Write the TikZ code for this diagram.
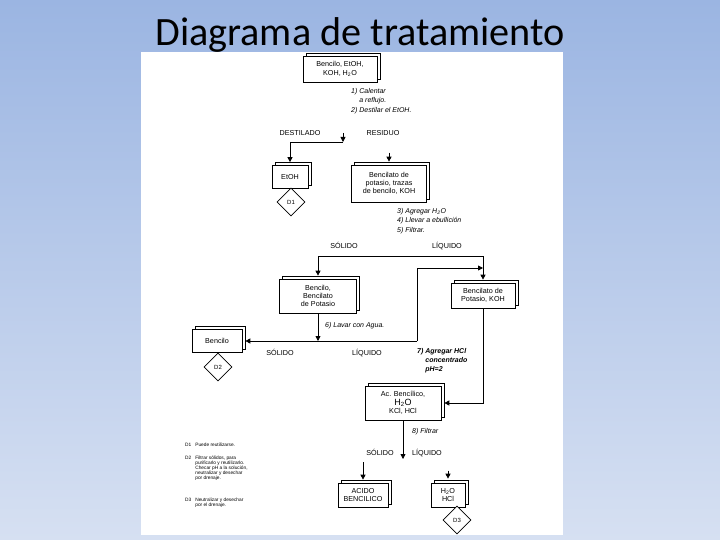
\documentclass[tikz,border=0pt]{standalone}
\usepackage{fontspec}
\setmainfont{Liberation Sans}
\newfontfamily\titlefont{Carlito}
\usetikzlibrary{arrows.meta,shapes.geometric,shadows}

\begin{document}
\begin{tikzpicture}[x=1pt,y=-1pt,
    every node/.style={font=\fontsize{7.2}{8.3}\selectfont, inner sep=1pt},
    stackbox/.style={draw, fill=white, line width=0.7pt, align=center,
      copy shadow={shadow xshift=3pt, shadow yshift=3pt, draw=black, fill=white, line width=0.7pt}},
    decision/.style={diamond, draw, fill=white, line width=0.6pt, minimum width=28pt,
      minimum height=28pt, inner sep=0pt, font=\fontsize{6}{7}\selectfont},
    link/.style={line width=0.8pt},
    arr/.style={link, -{Triangle[length=5pt,width=5pt]}},
    stepnote/.style={font=\fontsize{7}{9.5}\selectfont\itshape, align=left, anchor=north west},
    tag/.style={font=\fontsize{7.2}{8}\selectfont, anchor=base},
    legend/.style={font=\fontsize{4.8}{4.5}\selectfont, anchor=north west, inner sep=0pt}]
    % Slide background and sheet
    \shade[top color={rgb,255:red,155;green,181;blue,226}, bottom color={rgb,255:red,214;green,224;blue,242}]
        (0,0) rectangle (720,540);
    \fill[white] (141,52) rectangle (563,535);
    \node[font=\titlefont\fontsize{40.2}{42}\selectfont, anchor=base] (title) at (360,45.5) {Diagrama de tratamiento};
    % Boxes
    \node[stackbox, minimum width=74pt, minimum height=26pt] (start) at (340,69) {Bencilo, EtOH,\\KOH, H\textsubscript{2}O};
    \node[stackbox, minimum width=36pt, minimum height=23pt] (etoh) at (290,177) {EtOH};
    \node[stackbox, minimum width=75pt, minimum height=37pt] (resid) at (389,183.5) {Bencilato de\\potasio, trazas\\de bencilo, KOH};
    \node[stackbox, minimum width=77pt, minimum height=34pt] (mix) at (318,296) {Bencilo,\\Bencilato\\de Potasio};
    \node[stackbox, minimum width=64pt, minimum height=25pt] (kbenz) at (483,295.5) {Bencilato de\\Potasio, KOH};
    \node[stackbox, minimum width=50pt, minimum height=23pt] (benzilo) at (217,341) {Bencilo};
    \node[stackbox, minimum width=76pt, minimum height=34pt] (acid) at (403,403) {Ac. Bencílico,\\{\fontsize{9}{10}\selectfont H\textsubscript{2}O}\\KCl, HCl};
    \node[stackbox, minimum width=50pt, minimum height=24pt] (solid) at (363,495) {ACIDO\\BENCILICO};
    \node[stackbox, minimum width=34pt, minimum height=24pt] (water) at (448,495) {H\textsubscript{2}O\\HCl};
    % Disposal marks
    \node[decision] (d1) at (291,202) {D1};
    \node[decision] (d2) at (218,367) {D2};
    \node[decision] (d3) at (457,520) {D3};
    % Steps
    \node[stepnote] (s12) at (350,87) {1) Calentar\\\phantom{1) }a reflujo.\\2) Destilar el EtOH.};
    \node[stepnote] (s35) at (396,207) {3) Agregar H\textsubscript{2}O\\4) Llevar a ebullición\\5) Filtrar.};
    \node[stepnote, anchor=west] (s6) at (324,326) {6) Lavar con Agua.};
    \node[stepnote, font=\fontsize{7}{9}\selectfont\itshape\bfseries] (s7) at (416,347) {7) Agregar HCl\\\phantom{7) }concentrado\\\phantom{7) }pH=2};
    \node[stepnote, anchor=west] (s8) at (411,432) {8) Filtrar};
    % Phase labels
    \node[tag] (dest) at (300,136) {DESTILADO};
    \node[tag] (res) at (383,136) {RESIDUO};
    \node[tag] (sol1) at (344,248) {SÓLIDO};
    \node[tag] (liq1) at (447,248) {LÍQUIDO};
    \node[tag] (sol2) at (280,355) {SÓLIDO};
    \node[tag] (liq2) at (367,355) {LÍQUIDO};
    \node[tag] (sol3) at (380,455) {SÓLIDO};
    \node[tag] (liq3) at (427,455) {LÍQUIDO};
    % Connectors
    \coordinate (j1top) at (343,133);
    \coordinate (j1) at (343,142);
    \draw[arr] (j1top) -- (j1);
    \draw[arr] (j1) -| ([yshift=3pt]etoh.north);
    \draw[arr] ([yshift=12pt]resid.north) -- ([yshift=3pt]resid.north);
    \coordinate (s1) at (318,256);
    \coordinate (l1) at (483,256);
    \draw[link] (s1) -- (l1);
    \draw[arr] (s1) -- ([yshift=3pt]mix.north);
    \draw[arr] (l1) -- ([yshift=3pt]kbenz.north);
    \coordinate (j2) at (318,341);
    \coordinate (j3) at (417,341);
    \draw[arr] (mix.south) -- (j2);
    \draw[arr] (j3) -- ([xshift=3pt]benzilo.east);
    \coordinate (k1) at (483,268);
    \draw[arr] (j3) |- (k1);
    \draw[arr] (kbenz.south) |- ([xshift=3pt]acid.east);
    \coordinate (f1) at (403,459);
    \draw[arr] (acid.south) -- (f1);
    \coordinate (g1) at (363,462);
    \draw[arr] (g1) -- ([yshift=3pt]solid.north);
    \draw[arr] ([yshift=12pt]water.north) -- ([yshift=4pt]water.north);
    % Legend
    \node[legend] (leg1) at (185,443) {\begin{tabular}{@{}l@{\hspace{4pt}}l@{}}D1 & Puede reutilizarse.\end{tabular}};
    \node[legend] (leg2) at (185,456) {\begin{tabular}{@{}l@{\hspace{4pt}}l@{}}D2 & Filtrar sólidos, para\\ & purificarlo y reutilizarlo.\\ & Checar pH a la solución,\\ & neutralizar y desechar\\ & por drenaje.\end{tabular}};
    \node[legend] (leg3) at (185,498) {\begin{tabular}{@{}l@{\hspace{4pt}}l@{}}D3 & Neutralizar y desechar\\ & por el drenaje.\end{tabular}};
\end{tikzpicture}
\end{document}
